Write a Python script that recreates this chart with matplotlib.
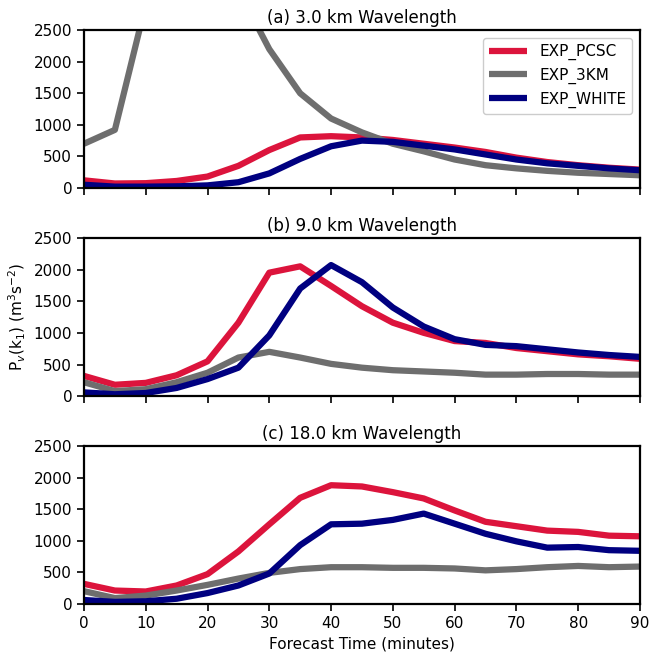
import matplotlib
matplotlib.use("Agg")
import matplotlib.pyplot as plt
import numpy as np

times = list(range(0, 95, 5))

titles = ["(a) 3.0 km Wavelength", "(b) 9.0 km Wavelength", "(c) 18.0 km Wavelength"]
labels = ["EXP_PCSC", "EXP_3KM", "EXP_WHITE"]
colors = ["#DC143C", "#6E6E6E", "#000080"]

pcsc_a = [120, 70, 75, 110, 180, 350, 600, 800, 820, 800, 760, 700, 640, 570, 480, 410, 360, 320, 290]
km3_a = [700, 920, 2910, 3500, 3400, 3140, 2200, 1500, 1100, 880, 700, 580, 450, 360, 310, 270, 240, 220, 200]
white_a = [50, 20, 20, 25, 40, 90, 230, 460, 660, 750, 730, 670, 610, 530, 450, 390, 350, 310, 280]

pcsc_b = [320, 180, 210, 330, 550, 1160, 1950, 2050, 1740, 1420, 1160, 1000, 870, 840, 760, 710, 660, 630, 590]
km3_b = [220, 80, 110, 220, 370, 610, 700, 610, 510, 450, 410, 390, 370, 340, 340, 350, 350, 340, 340]
white_b = [60, 30, 50, 130, 270, 450, 960, 1700, 2070, 1800, 1400, 1100, 900, 810, 790, 740, 690, 650, 620]

pcsc_c = [316, 210, 195, 290, 470, 830, 1260, 1680, 1880, 1860, 1770, 1670, 1480, 1300, 1230, 1160, 1140, 1080, 1070]
km3_c = [200, 90, 130, 210, 300, 400, 490, 550, 580, 580, 570, 570, 560, 530, 550, 580, 600, 580, 590]
white_c = [60, 30, 40, 80, 170, 290, 480, 930, 1260, 1270, 1330, 1430, 1270, 1110, 990, 890, 900, 850, 840]

panels = [
    [pcsc_a, km3_a, white_a],
    [pcsc_b, km3_b, white_b],
    [pcsc_c, km3_c, white_c],
]

plt.rcParams['font.family'] = ['DejaVu Sans']
fig = plt.figure(figsize=(6.51, 6.57), dpi=100)

positions = [
    [0.129, 0.714, 0.854, 0.240],
    [0.129, 0.397, 0.854, 0.241],
    [0.129, 0.081, 0.854, 0.240],
]

for i, (pos, series, title) in enumerate(zip(positions, panels, titles)):
    ax = fig.add_axes(pos)
    for vals, lab, col in zip(series, labels, colors):
        ax.plot(times, vals, color=col, lw=4.5, label=lab, solid_capstyle='butt')
    ax.set_xlim(0, 90)
    ax.set_ylim(0, 2500)
    ax.set_yticks([0, 500, 1000, 1500, 2000, 2500])
    ax.set_xticks(list(range(0, 91, 10)))
    ax.set_title(title, fontsize=12, pad=5)
    ax.tick_params(labelsize=11, width=1.2, length=5)
    for s in ax.spines.values():
        s.set_linewidth(1.6)
    if i < 2:
        ax.set_xticklabels([])
    else:
        ax.set_xlabel("Forecast Time (minutes)", fontsize=11)
    if i == 0:
        ax.legend(loc='upper right', fontsize=11, handlelength=2.5, framealpha=1)
    if i == 1:
        ax.set_ylabel(r"P$_v$(k$_1$) (m$^3$s$^{-2}$)", fontsize=11)

fig.savefig("out.png", dpi=100)
